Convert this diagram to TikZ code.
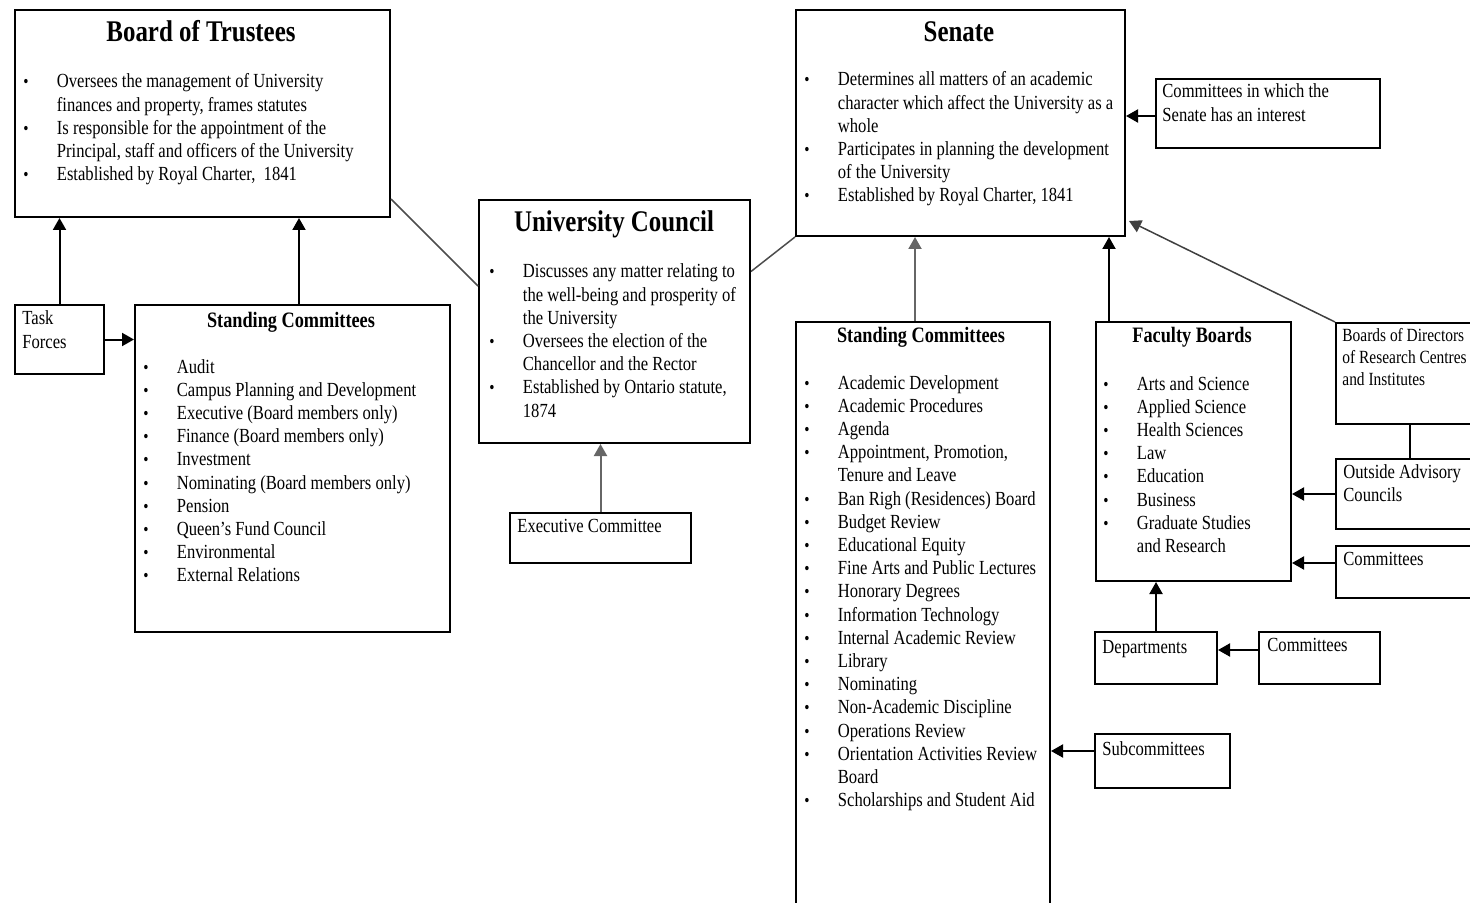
\documentclass[tikz,border=0pt]{standalone}
\usepackage{fontspec}
\setmainfont{Liberation Serif}[FakeStretch=0.83]
\usepackage{tikz}
\usetikzlibrary{arrows.meta}

% bullet list and plain lines, first baseline on top
\newcommand{\blist}[1]{\begin{tabular}[t]{@{}p{16.75pt}@{}l@{}}#1\end{tabular}}
\newcommand{\plines}[1]{\begin{tabular}[t]{@{}l@{}}#1\end{tabular}}
\newcommand{\bu}{\small\textbullet}

\tikzset{
  box/.style={draw, line width=1pt, inner sep=0pt, anchor=north west},
  sz/.style 2 args={minimum width={#1*0.5pt}, minimum height={#2*0.5pt}},
  ttl/.style={font=\fontsize{15}{18}\selectfont\bfseries, inner sep=0pt, anchor=base},
  sub/.style={font=\fontsize{11}{13}\selectfont\bfseries, inner sep=0pt, anchor=base},
  lst/.style={font=\fontsize{10}{11.6}\selectfont, inner sep=0pt, anchor=base west},
  arr/.style={-{Triangle[length=6pt,width=6.5pt]}, line width=1pt},
  lnk/.style={line width=0.75pt, black!70},
}

\begin{document}
\begin{tikzpicture}[x=0.5pt, y=-0.5pt]
\useasboundingbox (0,0) rectangle (1470,903);
\clip (0,0) rectangle (1470,903);

% Board of Trustees
\node[box, sz={375}{207}] (bot) at (14,9) {};
\node[ttl] (bot_t) at (201,42) {Board of Trustees};
\node[lst] (bot_l) at (23,88) {\blist{
\bu & Oversees the management of University\\
    & finances and property, frames statutes\\
\bu & Is responsible for the appointment of the\\
    & Principal, staff and officers of the University\\
\bu & Established by Royal Charter,\ \ 1841}};

\node[box, sz={89}{69}] (tf) at (14,304) {};
\node[lst] (tf_l) at (22,325) {\plines{Task\\Forces}};

\node[box, sz={315}{327}] (bsc) at (134,304) {};
\node[sub] (bsc_t) at (291,328) {Standing Committees};
\node[lst] (bsc_l) at (143,373) {\blist{
\bu & Audit\\
\bu & Campus Planning and Development\\
\bu & Executive (Board members only)\\
\bu & Finance (Board members only)\\
\bu & Investment\\
\bu & Nominating (Board members only)\\
\bu & Pension\\
\bu & Queen's Fund Council\\
\bu & Environmental\\
\bu & External Relations}};

% University Council
\node[box, sz={271}{243}] (uc) at (478,199) {};
\node[ttl] (uc_t) at (614,232) {University Council};
\node[lst] (uc_l) at (489,278) {\blist{
\bu & Discusses any matter relating to\\
    & the well-being and prosperity of\\
    & the University\\
\bu & Oversees the election of the\\
    & Chancellor and the Rector\\
\bu & Established by Ontario statute,\\
    & 1874}};

\node[box, sz={181}{50}] (ec) at (509,512) {};
\node[lst] (ec_l) at (517,532) {Executive Committee};

% Senate
\node[box, sz={329}{226}] (sen) at (795,9) {};
\node[ttl] (sen_t) at (959,42) {Senate};
\node[lst] (sen_l) at (804,86) {\blist{
\bu & Determines all matters of an academic\\
    & character which affect the University as a\\
    & whole\\
\bu & Participates in planning the development\\
    & of the University\\
\bu & Established by Royal Charter, 1841}};

\node[box, sz={224}{69}] (cwi) at (1155,78) {};
\node[lst] (cwi_l) at (1162,98) {\plines{Committees in which the\\Senate has an interest}};

\node[box, sz={254}{640}] (ssc) at (795,321) {};
\node[sub] (ssc_t) at (921,343) {Standing Committees};
\node[lst] (ssc_l) at (804,389) {\blist{
\bu & Academic Development\\
\bu & Academic Procedures\\
\bu & Agenda\\
\bu & Appointment, Promotion,\\
    & Tenure and Leave\\
\bu & Ban Righ (Residences) Board\\
\bu & Budget Review\\
\bu & Educational Equity\\
\bu & Fine Arts and Public Lectures\\
\bu & Honorary Degrees\\
\bu & Information Technology\\
\bu & Internal Academic Review\\
\bu & Library\\
\bu & Nominating\\
\bu & Non-Academic Discipline\\
\bu & Operations Review\\
\bu & Orientation Activities Review\\
    & Board\\
\bu & Scholarships and Student Aid}};

\node[box, sz={195}{259}] (fb) at (1095,321) {};
\node[sub] (fb_t) at (1192,343) {Faculty Boards};
\node[lst] (fb_l) at (1103,390) {\blist{
\bu & Arts and Science\\
\bu & Applied Science\\
\bu & Health Sciences\\
\bu & Law\\
\bu & Education\\
\bu & Business\\
\bu & Graduate Studies\\
    & and Research}};

\node[box, sz={200}{101}] (bod) at (1335,322) {};
\node[lst, font=\fontsize{9.3}{10.8}\selectfont] (bod_l) at (1342,342) {\plines{Boards of Directors\\of Research Centres\\and Institutes}};

\node[box, sz={200}{70}] (oac) at (1335,458) {};
\node[lst] (oac_l) at (1343,478) {\plines{Outside Advisory\\Councils}};

\node[box, sz={200}{52}] (fcom) at (1335,545) {};
\node[lst] (fcom_l) at (1343,565) {Committees};

\node[box, sz={122}{52}] (dep) at (1094,631) {};
\node[lst] (dep_l) at (1102,653) {Departments};

\node[box, sz={121}{52}] (dcom) at (1258,631) {};
\node[lst] (dcom_l) at (1267,651) {Committees};

\node[box, sz={135}{54}] (subc) at (1094,733) {};
\node[lst] (subc_l) at (1102,755) {Subcommittees};

% links between the three bodies
\draw[lnk] ([yshift=9.5pt]bot.south east) -- ([yshift=17.75pt]uc.west);
\draw[lnk] ([yshift=25pt]uc.east) -- (sen.south west);

% arrows
\draw[arr] (tf.north) -- (tf.north |- bot.south);
\draw[arr] ([xshift=3.25pt]bsc.north) -- ([xshift=3.25pt]bsc.north |- bot.south);
\draw[arr] (tf.east) -- (tf.east -| bsc.west);
\draw[arr, black!60] (ec.north) -- (ec.north |- uc.south);
\draw[arr] ([yshift=-1.25pt]cwi.west) -- ([yshift=-1.25pt]cwi.west -| sen.east);
\draw[arr, black!60] ([xshift=-4pt]ssc.north) -- ([xshift=-4pt]ssc.north |- sen.south);
\draw[arr] ([xshift=7pt]fb.north west) -- ([xshift=7pt]fb.north west |- sen.south);
\draw[arr, line width=0.75pt, black!75] (bod.north west) -- ([xshift=1.5pt,yshift=8pt]sen.south east);
\draw[line width=1pt] ([xshift=37.5pt]bod.south west) -- ([xshift=37.5pt]oac.north west);
\draw[arr] (oac.west) -- (oac.west -| fb.east);
\draw[arr] ([yshift=4.5pt]fcom.west) -- ([yshift=4.5pt]fcom.west -| fb.east);
\draw[arr] (dep.north) -- (dep.north |- fb.south);
\draw[arr] ([yshift=4pt]dcom.west) -- ([yshift=4pt]dcom.west -| dep.east);
\draw[arr] ([yshift=5pt]subc.west) -- ([yshift=5pt]subc.west -| ssc.east);
\end{tikzpicture}
\end{document}
